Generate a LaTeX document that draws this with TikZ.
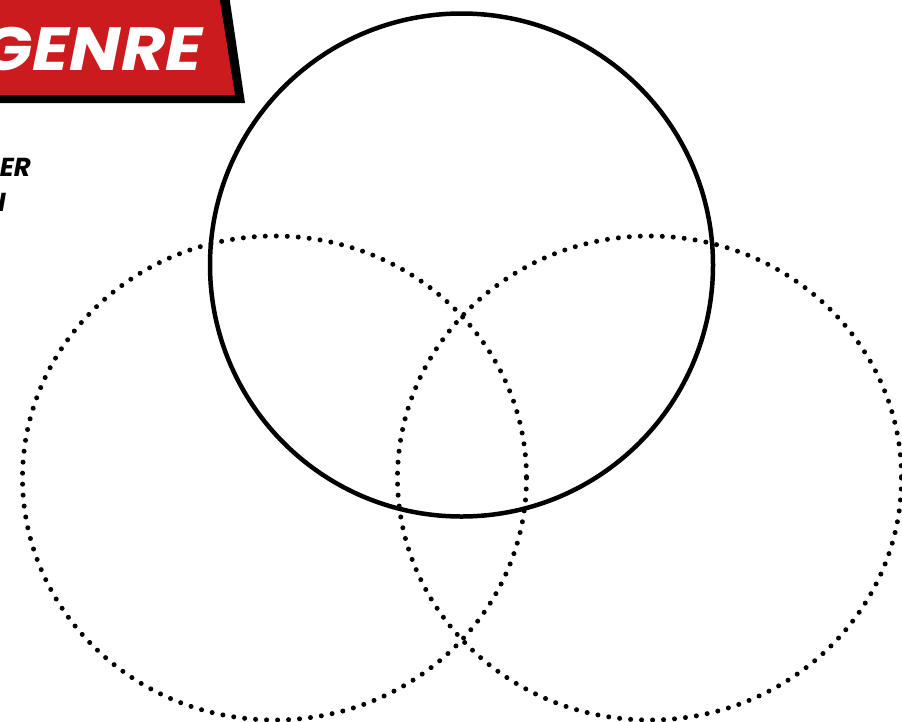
\documentclass[tikz,border=0pt]{standalone}
\usepackage{fontspec}
\setmainfont{Poppins}
\definecolor{bannerred}{RGB}{204,27,30}
\begin{document}
\begin{tikzpicture}[x=1pt,y=-1pt,
  solidring/.style={draw=black,line width=4.5pt},
  dotring/.style={draw=black,line width=5pt,line cap=round,dash pattern=on 0pt off 11pt},
  sidetext/.style={inner sep=0pt,font=\fontsize{26}{26}\selectfont\bfseries\itshape}]
\useasboundingbox (0,0) rectangle (902,721);
% banner
\fill[black] (-5,-5) -- (229,-5) -- (245,103) -- (-5,103) -- cycle;
\fill[bannerred] (-5,-5) -- (219,-5) -- (235,95) -- (-5,95) -- cycle;
\node[inner sep=0pt,anchor=base east,text=white,xscale=1.12,
  font=\fontsize{61}{61}\selectfont\bfseries\itshape] (title) at (203,70) {GENRE};
% side text (cut off)
\node[sidetext,anchor=base east] (side1) at (31,176) {ER};
\node[sidetext,anchor=base east] (side2) at (6,211) {I};
% venn
\draw[dotring] (274.5,478) ellipse [x radius=252,y radius=242];
\draw[dotring] (649.5,478) ellipse [x radius=252,y radius=242];
\draw[solidring] (461.5,265) circle [radius=251.5];
\end{tikzpicture}
\end{document}
